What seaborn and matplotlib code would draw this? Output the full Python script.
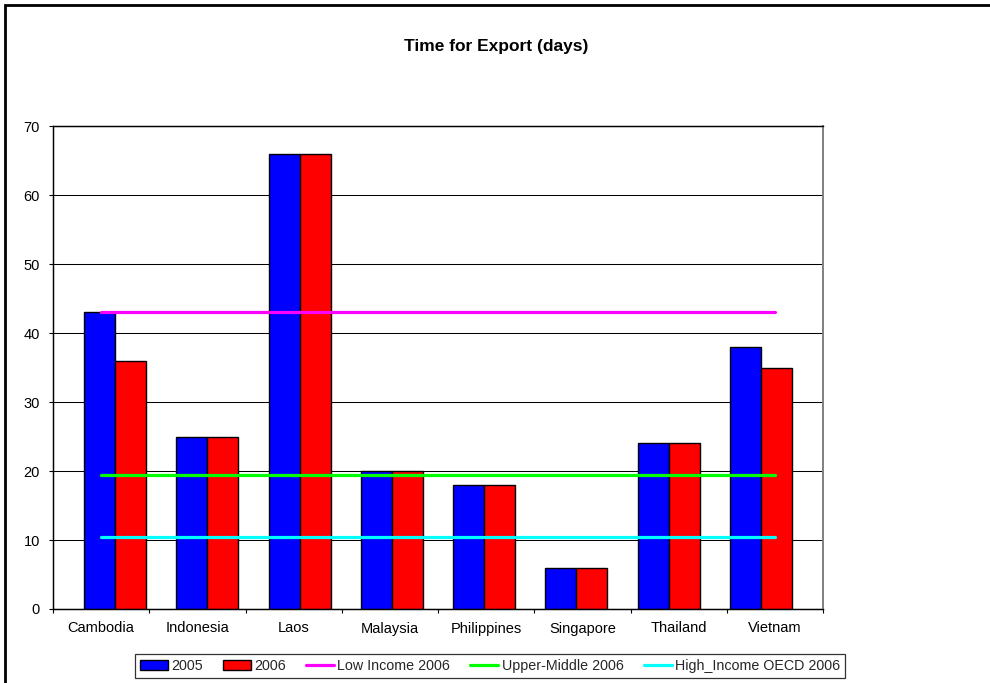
import numpy as np
import pandas as pd
import matplotlib
matplotlib.use("Agg")
import matplotlib.pyplot as plt
from matplotlib.patches import Rectangle, Patch
from matplotlib.lines import Line2D
from matplotlib.ticker import FixedLocator, NullLocator
import seaborn as sns

# --- data -------------------------------------------------------------
countries = ["Cambodia", "Indonesia", "Laos", "Malaysia",
             "Philippines", "Singapore", "Thailand", "Vietnam"]
days_2005 = [43, 25, 66, 20, 18, 6, 24, 38]
days_2006 = [36, 25, 66, 20, 18, 6, 24, 35]
years = ["2005", "2006"]

benchmark_names = ["Low Income 2006", "Upper-Middle 2006", "High_Income OECD 2006"]
benchmark_values = [43.1, 19.4, 10.5]

y_ticks = [0, 10, 20, 30, 40, 50, 60, 70]

bar_colors = ["#0000FF", "#FF0000"]
line_colors = ["#FF00FF", "#00FF00", "#00FFFF"]

# --- frames -----------------------------------------------------------
bars = pd.DataFrame({
    "country": countries * 2,
    "days": days_2005 + days_2006,
    "year": [years[0]] * len(countries) + [years[1]] * len(countries),
})

pos = np.arange(len(countries))
lines = pd.DataFrame({
    "x": np.concatenate([pos] * len(benchmark_values)),
    "days": np.repeat(benchmark_values, len(countries)),
    "group": np.repeat(benchmark_names, len(countries)),
})

# --- figure -----------------------------------------------------------
sns.set_theme(style="white")
plt.rcParams["font.family"] = ["Liberation Sans", "DejaVu Sans"]

W, H = 990, 683
fig = plt.figure(figsize=(W / 100, H / 100), dpi=100)
fig.patch.set_facecolor("white")

left, right, top, bottom = 53, 823, 126, 609
ax = fig.add_axes([left / W, 1 - bottom / H, (right - left) / W, (bottom - top) / H])

# bar layer (own x scale, slightly tighter spacing than the category axis)
sns.barplot(data=bars, x="country", y="days", hue="year", order=countries,
            hue_order=years, palette=bar_colors, width=0.672, errorbar=None,
            edgecolor="black", linewidth=1.0, saturation=1, legend=False,
            ax=ax)
for p in ax.patches:
    p.set_zorder(3)
ax.set_xlim(-0.672, len(countries) - 1 + 0.671)
ax.set_ylim(0, 70)
ax.set_yticks(y_ticks)
ax.set_yticklabels([str(t) for t in y_ticks])
ax.xaxis.set_major_locator(NullLocator())
ax.set_xlabel("")
ax.set_ylabel("")
ax.yaxis.grid(True, color="black", linewidth=0.75, zorder=1)
ax.set_axisbelow(True)
ax.tick_params(axis="y", which="major", direction="out", length=3, width=0.8,
               color="black", pad=6.5, labelsize=10.5, labelcolor="black", left=True)

# category axis with the benchmark lines on top of the bars
ax2 = ax.twiny()
sns.lineplot(data=lines, x="x", y="days", hue="group", hue_order=benchmark_names,
             palette=line_colors, linewidth=2.3, legend=False, ax=ax2)
ax2.set_xlim(-0.5, len(countries) - 0.5)
ax2.set_ylim(0, 70)
ax2.set_xticks(pos)
ax2.set_xticklabels(countries)
ax2.xaxis.set_minor_locator(FixedLocator(np.arange(-0.5, len(countries) + 0.5, 1.0)))
ax2.xaxis.set_ticks_position("bottom")
ax2.xaxis.set_label_position("bottom")
ax2.set_xlabel("")
ax2.set_ylabel("")
ax2.tick_params(axis="x", which="major", length=0, pad=9, labelsize=10.5,
                labelcolor="black", top=False, labeltop=False,
                bottom=True, labelbottom=True)
ax2.tick_params(axis="x", which="minor", direction="out", length=3, width=0.8,
                color="black", bottom=True, top=False)

for a in (ax, ax2):
    for side in ["left", "bottom", "top"]:
        a.spines[side].set_color("black")
        a.spines[side].set_linewidth(0.9)
    a.spines["right"].set_color("#808080")
    a.spines["right"].set_linewidth(1.2)

# title
fig.text(496 / W, 1 - 47 / H, "Time for Export (days)", ha="center", va="center",
         fontsize=12.5, fontweight="bold", color="black")

# legend
handles = [Patch(facecolor=c, edgecolor="black", linewidth=1.0) for c in bar_colors]
handles += [Line2D([0], [0], color=c, linewidth=2.3) for c in line_colors]
labels = years + benchmark_names
leg = fig.legend(handles, labels, loc="center", ncol=5,
                 bbox_to_anchor=(490 / W, 1 - 666 / H), frameon=True,
                 fancybox=False, edgecolor="black", fontsize=10.3,
                 handlelength=1.95, handletextpad=0.25, columnspacing=1.4,
                 borderpad=0.35, borderaxespad=0)
leg.get_frame().set_linewidth(0.9)

# chart-area border
fig.add_artist(Rectangle((5 / W, -0.05), 1.1, 1 - 5 / H + 0.05,
                         transform=fig.transFigure, fill=False,
                         edgecolor="black", linewidth=2.0, zorder=10))

fig.savefig("out.png", dpi=100, facecolor="white")
